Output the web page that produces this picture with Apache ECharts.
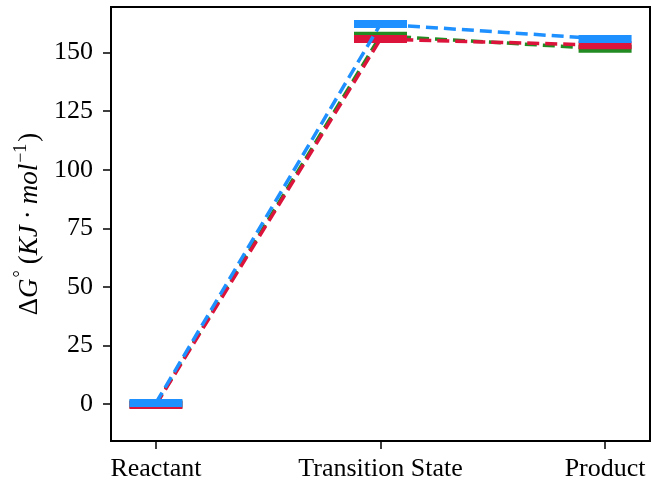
<!DOCTYPE html>
<html>
<head>
<meta charset="utf-8">
<script src="https://cdn.jsdelivr.net/npm/echarts@6/dist/echarts.min.js"></script>
<style>
html,body{margin:0;padding:0;background:#fff;}
#chart{width:651px;height:482px;}
</style>
</head>
<body>
<div id="chart"></div>
<script>
const categories = ['Reactant', 'Transition State', 'Product'];
const stateX = [0, 1, 2];
const greenValues = [0, 157.1, 151.6];
const redValues = [-0.3, 155.7, 153.1];
const blueValues = [0.5, 162.1, 155.7];
const yTicks = [0, 25, 50, 75, 100, 125, 150];

const seriesDefs = [
  { name: 'green', values: greenValues, color: '#228B22' },
  { name: 'red', values: redValues, color: '#DC143C' },
  { name: 'blue', values: blueValues, color: '#1E90FF' }
];

const HALF = 0.118;
const BAR_H = 8;
const FONT = '"Liberation Serif", "DejaVu Serif", serif';

const series = [];
seriesDefs.forEach((s, i) => {
  const pts = stateX.map((x, k) => [x, s.values[k]]);
  series.push({
    type: 'line',
    name: s.name + '-link',
    data: pts,
    symbol: 'none',
    silent: true,
    z: 2 + i * 2,
    lineStyle: { color: s.color, width: 3.5, type: [12, 6] }
  });
  series.push({
    type: 'custom',
    name: s.name + '-level',
    data: pts,
    z: 3 + i * 2,
    silent: true,
    renderItem: function (params, api) {
      const x = api.value(0), y = api.value(1);
      const p1 = api.coord([x - HALF, y]);
      const p2 = api.coord([x + HALF, y]);
      return {
        type: 'rect',
        shape: { x: p1[0], y: p1[1] - BAR_H / 2, width: p2[0] - p1[0], height: BAR_H },
        style: { fill: s.color }
      };
    }
  });
});

const chart = echarts.init(document.getElementById('chart'), null, { renderer: 'canvas' });
chart.setOption({
  animation: false,
  backgroundColor: '#fff',
  grid: { left: 111, right: 1, top: 7, bottom: 40, show: true, borderColor: '#000', borderWidth: 2 },
  xAxis: {
    type: 'value',
    min: -0.2,
    max: 2.2,
    splitLine: { show: false },
    axisLine: { show: true, onZero: false, lineStyle: { color: '#000', width: 2 } },
    axisTick: { show: true, length: 8, customValues: stateX, lineStyle: { color: '#000', width: 1.5 } },
    axisLabel: {
      customValues: stateX,
      formatter: v => categories[Math.round(v)],
      color: '#000', fontFamily: FONT, fontSize: 26, margin: 15
    }
  },
  yAxis: {
    type: 'value',
    min: -15.7,
    max: 169.4,
    splitLine: { show: false },
    axisLine: { show: true, onZero: false, lineStyle: { color: '#000', width: 2 } },
    axisTick: { show: true, length: 8, customValues: yTicks, lineStyle: { color: '#000', width: 1.5 } },
    axisLabel: {
      customValues: yTicks,
      color: '#000', fontFamily: FONT, fontSize: 26, margin: 18
    },
    name: '{n|Δ}{i|G}{s|°}{p|(}{i|KJ}{d|·}{i|mol}{s|−1}{n|)}',
    nameLocation: 'middle',
    nameRotate: 90,
    nameGap: 61,
    nameTextStyle: {
      rich: {
        n: { fontFamily: FONT, fontSize: 27, color: '#000', lineHeight: 34 },
        p: { fontFamily: FONT, fontSize: 27, color: '#000', lineHeight: 34, padding: [0, 0, 0, 4] },
        d: { fontFamily: FONT, fontSize: 27, color: '#000', lineHeight: 34, padding: [0, 6, 0, 6] },
        i: { fontFamily: FONT, fontSize: 27, fontStyle: 'italic', color: '#000', lineHeight: 34 },
        s: { fontFamily: FONT, fontSize: 18, color: '#000', verticalAlign: 'top', lineHeight: 34, padding: [0, 2, 0, 1] }
      }
    }
  },
  series: series
});
</script>
</body>
</html>
